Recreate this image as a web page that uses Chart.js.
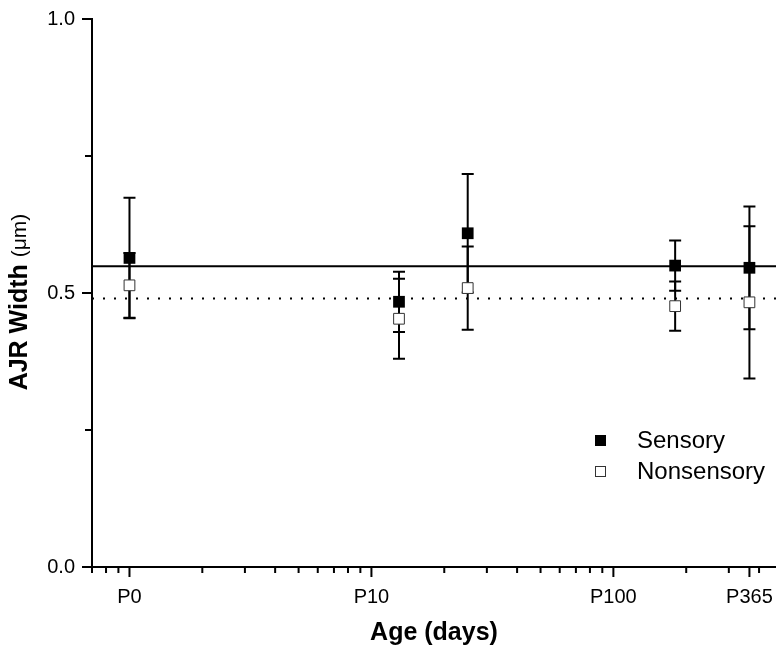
<!DOCTYPE html>
<html>
<head>
<meta charset="utf-8">
<script src="https://cdn.jsdelivr.net/npm/chart.js@4.4.1/dist/chart.umd.min.js"></script>
<style>
  html, body { margin: 0; padding: 0; background: #fff; }
  #wrap { width: 776px; height: 650px; }
</style>
</head>
<body>
<div id="wrap"><canvas id="ajrChart" width="776" height="650"></canvas></div>
<script>
// ========== DATA ==========
const ages = [1, 13, 25, 180, 365];
const sensory = [0.564, 0.484, 0.609, 0.550, 0.546];
const sensoryErr = [0.110, 0.055, 0.108, 0.046, 0.112];
const nonsensory = [0.514, 0.453, 0.509, 0.476, 0.483];
const nonsensoryErr = [0.059, 0.073, 0.076, 0.045, 0.139];
const sensoryMean = 0.549;
const nonsensoryMean = 0.490;

const xRange = [0.7, 470];
const xMajor = [1, 10, 100, 365];
const xMajorLabels = ['P0', 'P10', 'P100', 'P365'];
const xMinor = [0.7, 0.8, 0.9, 2, 3, 4, 5, 6, 7, 8, 9, 20, 30, 40, 50, 60, 70, 80, 90, 200, 300, 400];
const yMajor = [0, 0.5, 1];
const yMinor = [0.25, 0.75];

const FONT = "Arial, 'Liberation Sans', Helvetica, sans-serif";

// ========== PLUGINS ==========
const errorBars = {
    id: 'errorBars',
    beforeDatasetsDraw(chart) {
        const { ctx, scales: { x, y } } = chart;
        ctx.save();
        ctx.strokeStyle = '#000';
        ctx.lineWidth = 2;
        const draw = (vals, errs) => {
            vals.forEach((v, i) => {
                const px = x.getPixelForValue(ages[i]);
                const top = y.getPixelForValue(v + errs[i]);
                const bot = y.getPixelForValue(v - errs[i]);
                ctx.beginPath();
                ctx.moveTo(px, top); ctx.lineTo(px, bot);
                ctx.moveTo(px - 6, top); ctx.lineTo(px + 6, top);
                ctx.moveTo(px - 6, bot); ctx.lineTo(px + 6, bot);
                ctx.stroke();
            });
        };
        draw(sensory, sensoryErr);
        draw(nonsensory, nonsensoryErr);
        ctx.restore();
    }
};

const axisDecor = {
    id: 'axisDecor',
    afterDraw(chart) {
        const { ctx, chartArea: a, scales: { x, y } } = chart;
        ctx.save();
        ctx.strokeStyle = '#000';
        ctx.lineWidth = 2;
        ctx.beginPath();
        xMajor.forEach(v => { const p = x.getPixelForValue(v); ctx.moveTo(p, a.bottom); ctx.lineTo(p, a.bottom + 10); });
        xMinor.forEach(v => { const p = x.getPixelForValue(v); ctx.moveTo(p, a.bottom); ctx.lineTo(p, a.bottom + 6); });
        yMajor.forEach(v => { const p = y.getPixelForValue(v); ctx.moveTo(a.left, p); ctx.lineTo(a.left - 10, p); });
        yMinor.forEach(v => { const p = y.getPixelForValue(v); ctx.moveTo(a.left, p); ctx.lineTo(a.left - 7, p); });
        ctx.stroke();

        // axis titles
        ctx.fillStyle = '#000';
        ctx.textBaseline = 'middle';
        ctx.textAlign = 'center';
        ctx.font = `bold 25px ${FONT}`;
        ctx.fillText('Age (days)', (a.left + a.right) / 2, 633);

        ctx.save();
        ctx.translate(20, 302);
        ctx.rotate(-Math.PI / 2);
        ctx.textAlign = 'left';
        ctx.font = `bold 25px ${FONT}`;
        const t1 = 'AJR Width ';
        const w1 = ctx.measureText(t1).width;
        ctx.font = `21px ${FONT}`;
        const t2 = '(\u03bcm)';
        const w2 = ctx.measureText(t2).width;
        const start = -(w1 + w2) / 2;
        ctx.font = `bold 25px ${FONT}`;
        ctx.fillText(t1, start, 0);
        ctx.font = `21px ${FONT}`;
        ctx.fillText(t2, start + w1, 0);
        ctx.restore();

        // legend
        ctx.textAlign = 'left';
        ctx.font = `24px ${FONT}`;
        ctx.fillStyle = '#000';
        ctx.fillRect(595, 435, 11, 11);
        ctx.fillText('Sensory', 637, 441);
        ctx.fillStyle = '#fff';
        ctx.fillRect(595, 466, 11, 11);
        ctx.lineWidth = 1;
        ctx.strokeStyle = '#333';
        ctx.strokeRect(595.5, 466.5, 10, 10);
        ctx.fillStyle = '#000';
        ctx.fillText('Nonsensory', 637, 472);
        ctx.restore();
    }
};

// ========== CHART ==========
const ctx = document.getElementById('ajrChart').getContext('2d');
new Chart(ctx, {
    type: 'scatter',
    data: {
        datasets: [
            {
                label: 'Sensory',
                data: ages.map((a, i) => ({ x: a, y: sensory[i] })),
                pointStyle: 'rect',
                pointRadius: 8.3,
                backgroundColor: '#000',
                borderColor: '#000',
                borderWidth: 0,
                order: 1
            },
            {
                label: 'Nonsensory',
                data: ages.map((a, i) => ({ x: a, y: nonsensory[i] })),
                pointStyle: 'rect',
                pointRadius: 7.6,
                backgroundColor: '#fff',
                borderColor: '#333',
                borderWidth: 1,
                order: 2
            },
            {
                type: 'line',
                label: 'Sensory mean',
                data: xRange.map(v => ({ x: v, y: sensoryMean })),
                borderColor: '#000',
                borderWidth: 2,
                pointRadius: 0,
                order: 3
            },
            {
                type: 'line',
                label: 'Nonsensory mean',
                data: xRange.map(v => ({ x: v, y: nonsensoryMean })),
                borderColor: '#000',
                borderWidth: 2,
                borderDash: [2, 9],
                pointRadius: 0,
                order: 4
            }
        ]
    },
    options: {
        responsive: false,
        animation: false,
        layout: { autoPadding: false, padding: { top: 14, right: 0, left: 0, bottom: 0 } },
        plugins: { legend: { display: false }, tooltip: { enabled: false } },
        scales: {
            x: {
                type: 'logarithmic',
                min: xRange[0],
                max: xRange[1],
                afterBuildTicks: s => { s.ticks = [...xMinor, ...xMajor].sort((p, q) => p - q).map(v => ({ value: v })); },
                afterFit: s => { s.height = 83; s.paddingRight = 0; s.paddingLeft = 0; },
                ticks: {
                    autoSkip: false,
                    maxRotation: 0,
                    padding: 0,
                    color: '#000',
                    font: { family: FONT, size: 20 },
                    callback: v => { const k = xMajor.indexOf(v); return k >= 0 ? xMajorLabels[k] : ''; }
                },
                grid: { drawOnChartArea: false, tickLength: 18, color: 'rgba(0,0,0,0)' },
                border: { display: true, color: '#000', width: 2 }
            },
            y: {
                min: 0,
                max: 1,
                afterBuildTicks: s => { s.ticks = [0, 0.25, 0.5, 0.75, 1].map(v => ({ value: v })); },
                afterFit: s => { s.width = 92; },
                ticks: {
                    autoSkip: false,
                    padding: 7,
                    color: '#000',
                    font: { family: FONT, size: 20 },
                    callback: v => yMajor.includes(v) ? v.toFixed(1) : ''
                },
                grid: { drawOnChartArea: false, tickLength: 10, color: 'rgba(0,0,0,0)' },
                border: { display: true, color: '#000', width: 2 }
            }
        }
    },
    plugins: [errorBars, axisDecor]
});
</script>
</body>
</html>
